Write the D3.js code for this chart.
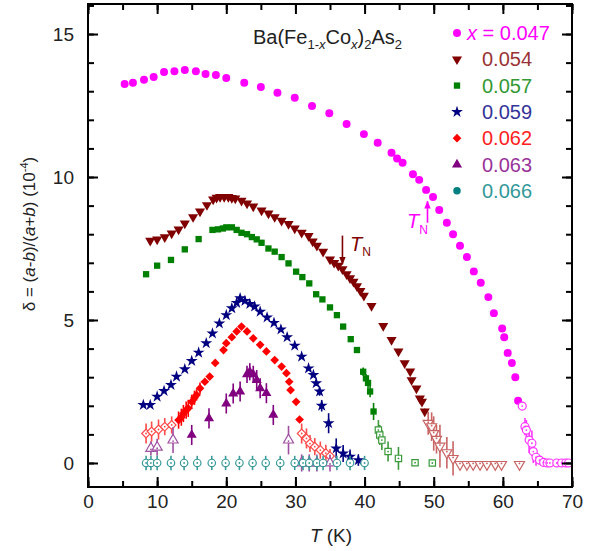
<!DOCTYPE html>
<html>
<head>
<meta charset="utf-8">
<script src="https://cdn.jsdelivr.net/npm/d3@7"></script>
<style>
  body { margin: 0; background: #fff; }
  svg { font-family: Arial, "Liberation Sans", sans-serif; }
</style>
</head>
<body>
<div id="chart"></div>
<script>
// each point: [T (K), delta (1e-4), error bar half height]
var x047Filled = [[5.3,13.25,0],[6.5,13.3,0],[8.1,13.4,0],[9.5,13.5,0],[11.0,13.67,0],[12.5,13.7,0],[14,13.74,0],[15.6,13.7,0],[17,13.6,0],[18.5,13.57,0],[20,13.46,0],[22.6,13.3,0],[25,13.15,0],[27.4,12.95,0],[29.9,12.77,0],[32.4,12.48,0],[34.9,12.23,0],[37.4,11.85,0],[39.9,11.5,0],[41.9,11.2,0],[43.9,10.85,0],[44.7,10.65,0],[45.5,10.5,0],[47,10.1,0],[47.9,9.9,0],[48.9,9.55,0],[49.9,9.3,0],[50.8,8.85,0],[51.9,8.4,0],[52.8,8.0,0],[53.8,7.6,0],[54.8,7.2,0],[55.8,6.7,0],[56.8,6.3,0],[57.9,5.8,0],[58.7,5.24,0],[59.9,4.7,0],[60.2,4.4,0],[60.7,3.85,0],[61.3,3.5,0],[61.8,3.0,0],[62.2,2.18,0]];
var x047Open = [[62.8,1.99,0.1],[63.2,1.27,0.3],[63.4,1.15,0.35],[63.8,0.8,0.45],[64.2,0.69,0.45],[64.4,0.4,0.4],[64.8,0.2,0.3],[65.3,0.1,0.15],[65.9,0.02,0.08],[66.4,0,0.05],[66.8,0,0.05],[67.8,0,0.05],[68.5,0,0.05],[69.1,0,0.05],[69.5,0,0.05]];

var x054Filled = [[9.0,7.77,0],[10.0,7.82,0],[11.1,7.9,0],[12.1,8.03,0],[13.1,8.17,0],[14.0,8.38,0],[15.2,8.6,0],[16.2,8.8,0],[17.2,9.02,0],[18.1,9.22,0],[18.6,9.28,0],[19.1,9.3,0],[19.7,9.3,0],[20.3,9.3,0],[20.8,9.27,0],[21.3,9.25,0],[22.2,9.17,0],[23.0,9.08,0],[23.9,8.97,0],[25.1,8.83,0],[26.1,8.73,0],[27.0,8.6,0],[28.0,8.47,0],[29.0,8.36,0],[29.9,8.2,0],[30.9,8.05,0],[31.9,7.94,0],[32.5,7.75,0],[33.1,7.6,0],[34.0,7.39,0],[35.0,7.12,0],[35.6,7.0,0],[36.2,6.9,0],[36.8,6.78,0],[37.4,6.6,0],[37.9,6.46,0],[38.4,6.34,0],[38.9,6.18,0],[39.4,6.02,0],[39.9,5.85,0],[41.0,5.49,0],[42.7,4.79,0],[43.9,4.3,0],[44.9,3.9,0],[45.8,3.49,0],[46.6,3.2,0],[46.8,2.9,0],[47.5,2.61,0],[48.0,2.26,0],[48.3,2.14,0],[48.7,1.8,0.1]];
var x054Open = [[49.2,1.39,0.4],[49.7,1.27,0.5],[50.0,1.03,0.6],[50.4,0.83,0.5],[50.9,0.59,0.75],[51.9,0.36,0.55],[52.8,0.16,0.6],[53.8,-0.05,0.05],[54.8,-0.05,0],[55.7,-0.05,0],[56.7,-0.05,0],[57.7,-0.05,0],[58.9,-0.05,0],[59.8,-0.05,0],[62.4,-0.05,0]];

var x057Filled = [[8.4,6.6,0],[10,6.9,0],[12,7.1,0],[14,7.47,0],[16,7.83,0],[18,8.15,0],[18.8,8.17,0],[19.5,8.2,0],[20,8.24,0],[20.8,8.24,0],[21.5,8.15,0],[22.2,8.05,0],[23,8.0,0],[23.7,7.9,0],[24.4,7.82,0],[25.1,7.7,0],[26.1,7.5,0],[27,7.39,0],[28,7.2,0],[29,6.98,0],[30.1,6.69,0],[31,6.5,0],[32,6.28,0],[33,5.9,0],[33.9,5.72,0],[35,5.44,0],[36,5.17,0],[36.9,4.77,0],[38,4.33,0],[38.9,3.95,0],[39.8,3.19,0.15],[40.2,2.96,0.15],[40.5,2.8,0.2],[40.8,2.5,0.2],[41.3,1.8,0.3]];
var x057Open = [[42.0,1.15,0.35],[42.2,0.98,0.35],[42.5,0.8,0.35],[43.4,0.4,0.35],[44.9,0.16,0.4],[47.3,0.01,0],[49.8,0,0]];

var x059Filled = [[8,2.03,0],[9,2.03,0],[10,2.32,0],[11,2.52,0],[12,2.73,0],[12.8,3.02,0],[14,3.28,0],[15,3.57,0],[16,3.86,0],[17.1,4.19,0],[18,4.53,0],[19,4.88,0],[20,5.17,0],[20.8,5.41,0],[21.5,5.6,0],[22,5.76,0],[22.7,5.67,0],[23.4,5.56,0],[24.1,5.47,0],[24.9,5.29,0],[25.9,5.09,0],[26.9,4.9,0],[27.9,4.67,0],[28.8,4.4,0],[29.9,4.1,0],[30.9,3.72,0],[31.9,3.31,0],[32.6,3.08,0],[33.0,2.79,0.1],[33.5,2.5,0.15],[33.8,2.0,0.2],[34.8,1.39,0.35],[35.9,0.51,0.35],[36.9,0.33,0.3],[37.9,0.22,0.25],[39.1,0.1,0.2]];

var x062Filled = [[13.1,1.5,0.3],[13.5,1.6,0.3],[13.8,1.73,0.3],[14.2,1.85,0.3],[14.5,1.91,0.3],[15,2.14,0.25],[15.4,2.28,0.25],[15.7,2.38,0.2],[16.2,2.61,0.2],[16.9,2.84,0],[17.6,3.02,0],[18.4,3.5,0],[19.6,3.95,0],[20,4.19,0],[20.8,4.4,0],[21.5,4.6,0],[22.2,4.77,0],[23,4.6,0],[23.9,4.36,0],[24.9,4.13,0],[25.8,3.9,0],[27,3.6,0],[28,3.37,0],[28.7,3.14,0],[29.1,2.84,0],[29.3,2.55,0],[30.1,2.14,0],[30.6,1.52,0]];
var x062Open = [[8.4,1.03,0.35],[9.2,1.1,0.35],[10.2,1.17,0.35],[11.1,1.27,0.3],[12.1,1.33,0.3],[30.9,1.03,0.35],[31.6,0.86,0.35],[32.1,0.68,0.3],[32.8,0.57,0.3],[33.6,0.45,0.3],[34.4,0.34,0.3],[35,0.24,0.25]];

var x063Filled = [[15,0.98,0.35],[17.5,1.56,0.35],[20,2.08,0.35],[21,2.43,0.35],[22,2.5,0.35],[23,3.1,0.3],[23.4,3.19,0.3],[23.9,3.1,0.3],[24.4,2.9,0.35],[24.9,2.61,0.35],[25.8,2.44,0.35],[26.8,1.68,0.35]];
var x063Open = [[9.1,0.51,0.25],[10,0.55,0.3],[12.3,0.8,0.45],[29,0.8,0.5],[30.9,0,0.3],[32,0,0.3],[33.1,0,0.3],[35,0,0.3]];

var x066Open = [[8.4,0,0.25],[9.1,0,0.25],[10,0,0.25],[12,0,0.25],[13.9,0,0.25],[15.8,0,0.25],[17.9,0,0.25],[19.9,0,0.25],[21.9,0,0.25],[23.8,0,0.25],[25.7,0,0.25],[27.8,0,0.25],[29.9,0,0.25],[31.1,0,0.25],[32,0,0.25],[33.1,0,0.25],[34,0,0.25],[36,0,0.25],[37.9,0,0.25],[40,0,0.25]];

var legendLabels = ['0.047', '0.054', '0.057', '0.059', '0.062', '0.063', '0.066'];
var xTicks = [0, 10, 20, 30, 40, 50, 60, 70];
var yTicks = [0, 5, 10, 15];

// series table: marker, colours, filled / open data
var series = [
  {filled: x047Filled, open: x047Open, symbol: d3.symbolCircle, rot: 0, size: 50, color: '#ff00ff', open_color: '#ff33ff', text: '#ff00ff'},
  {filled: x054Filled, open: x054Open, symbol: d3.symbolTriangle, rot: 180, size: 44, color: '#800000', open_color: '#c86464', text: '#993333'},
  {filled: x057Filled, open: x057Open, symbol: d3.symbolSquare, rot: 0, size: 40, color: '#008000', open_color: '#3a9a3a', text: '#339933'},
  {filled: x059Filled, open: [], symbol: d3.symbolStar, rot: 0, size: 44, color: '#000080', open_color: '#3333aa', text: '#333399'},
  {filled: x062Filled, open: x062Open, symbol: d3.symbolSquare, rot: 45, size: 38, color: '#ff0000', open_color: '#ff4a4a', text: '#ff2020'},
  {filled: x063Filled, open: x063Open, symbol: d3.symbolTriangle, rot: 0, size: 44, color: '#800080', open_color: '#a050a0', text: '#993399'},
  {filled: [], open: x066Open, symbol: d3.symbolCircle, rot: 0, size: 44, color: '#008080', open_color: '#3a9a9a', text: '#339999'}
];

var W = 593, H = 551;
var margin = {top: 4, right: 21, bottom: 64, left: 88};

var svg = d3.select('#chart').append('svg')
  .attr('width', W).attr('height', H);

var x = d3.scaleLinear().domain([0, 70]).range([margin.left, W - margin.right]);
var y = d3.scaleLinear().domain([-0.84, 16.05]).range([H - margin.bottom, margin.top]);

// axes (ticks point inward on all four sides)
function drawAxes() {
  var minorX = d3.range(0, 71, 5), minorY = d3.range(0, 17, 1);

  function style(g) {
    g.select('.domain').remove();
    g.selectAll('line').attr('stroke', '#000').attr('stroke-width', 2);
    g.selectAll('text').attr('font-size', 19).attr('fill', '#222');
  }

  svg.append('g').attr('transform', 'translate(0,' + y.range()[0] + ')')
    .call(d3.axisBottom(x).tickValues(minorX).tickSize(-6).tickFormat('')).call(style);
  svg.append('g').attr('transform', 'translate(0,' + y.range()[0] + ')')
    .call(d3.axisBottom(x).tickValues(xTicks).tickSize(-10).tickPadding(8).tickFormat(d3.format('d'))).call(style);
  svg.append('g').attr('transform', 'translate(0,' + y.range()[1] + ')')
    .call(d3.axisTop(x).tickValues(minorX).tickSize(-6).tickFormat('')).call(style);
  svg.append('g').attr('transform', 'translate(0,' + y.range()[1] + ')')
    .call(d3.axisTop(x).tickValues(xTicks).tickSize(-10).tickFormat('')).call(style);

  svg.append('g').attr('transform', 'translate(' + x.range()[0] + ',0)')
    .call(d3.axisLeft(y).tickValues(minorY).tickSize(-6).tickFormat('')).call(style);
  svg.append('g').attr('transform', 'translate(' + x.range()[0] + ',0)')
    .call(d3.axisLeft(y).tickValues(yTicks).tickSize(-10).tickPadding(14).tickFormat(d3.format('d'))).call(style);
  svg.append('g').attr('transform', 'translate(' + x.range()[1] + ',0)')
    .call(d3.axisRight(y).tickValues(minorY).tickSize(-6).tickFormat('')).call(style);
  svg.append('g').attr('transform', 'translate(' + x.range()[1] + ',0)')
    .call(d3.axisRight(y).tickValues(yTicks).tickSize(-10).tickFormat('')).call(style);

  svg.append('rect')
    .attr('x', x.range()[0]).attr('y', y.range()[1])
    .attr('width', x.range()[1] - x.range()[0])
    .attr('height', y.range()[0] - y.range()[1])
    .attr('fill', 'none').attr('stroke', '#000').attr('stroke-width', 2);
}

function drawErrors(g, data, color) {
  g.selectAll(null).data(data.filter(function(d) { return d[2] > 0; }))
    .enter().append('line')
    .attr('x1', function(d) { return x(d[0]); })
    .attr('x2', function(d) { return x(d[0]); })
    .attr('y1', function(d) { return y(d[1] - d[2]); })
    .attr('y2', function(d) { return y(d[1] + d[2]); })
    .attr('stroke', color).attr('stroke-width', 1.6);
}

function drawSeries() {
  series.forEach(function(s) {
    var g = svg.append('g');
    var sym = d3.symbol().type(s.symbol).size(s.size);
    drawErrors(g, s.open, s.open_color);
    drawErrors(g, s.filled, s.color);

    g.selectAll(null).data(s.filled).enter().append('path')
      .attr('d', sym)
      .attr('transform', function(d) { return 'translate(' + x(d[0]) + ',' + y(d[1]) + ') rotate(' + s.rot + ')'; })
      .attr('fill', s.color);

    // open markers with a small dot in the middle
    g.selectAll(null).data(s.open).enter().append('path')
      .attr('d', sym)
      .attr('transform', function(d) { return 'translate(' + x(d[0]) + ',' + y(d[1]) + ') rotate(' + s.rot + ')'; })
      .attr('fill', '#fff').attr('stroke', s.open_color).attr('stroke-width', 1.2);
    g.selectAll(null).data(s.open).enter().append('circle')
      .attr('cx', function(d) { return x(d[0]); })
      .attr('cy', function(d) { return y(d[1]) + (s.rot === 180 ? -1 : (s.symbol === d3.symbolTriangle ? 1 : 0)); })
      .attr('r', 0.9).attr('fill', s.open_color);
  });
}

function drawLegend() {
  var lx = 457, ly = 33, dy = 26.3;
  series.forEach(function(s, i) {
    var cy = ly + i * dy;
    svg.append('path')
      .attr('d', d3.symbol().type(s.symbol).size(s.size)())
      .attr('transform', 'translate(' + lx + ',' + cy + ') rotate(' + s.rot + ')')
      .attr('fill', s.color);
    var t = svg.append('text')
      .attr('x', i === 0 ? 467 : 482).attr('y', cy + 7)
      .attr('font-size', 20).attr('fill', s.text);
    if (i === 0) {
      t.append('tspan').attr('font-style', 'italic').text('x');
      t.append('tspan').text(' = ' + legendLabels[i]);
    } else {
      t.text(legendLabels[i]);
    }
  });
}

function drawLabels() {
  // compound formula
  var f = svg.append('text').attr('x', 253).attr('y', 44).attr('font-size', 20).attr('fill', '#222');
  f.append('tspan').text('Ba(Fe');
  var s1 = f.append('tspan').attr('font-size', 13).attr('dy', 5);
  s1.append('tspan').text('1-');
  s1.append('tspan').attr('font-style', 'italic').text('x');
  f.append('tspan').attr('dy', -5).text('Co');
  f.append('tspan').attr('font-size', 13).attr('dy', 5).attr('font-style', 'italic').text('x');
  f.append('tspan').attr('dy', -5).text(')');
  f.append('tspan').attr('font-size', 13).attr('dy', 5).text('2');
  f.append('tspan').attr('dy', -5).text('As');
  f.append('tspan').attr('font-size', 13).attr('dy', 5).text('2');

  // x axis title
  var xt = svg.append('text').attr('x', 331).attr('y', 542)
    .attr('text-anchor', 'middle').attr('font-size', 19).attr('fill', '#222');
  xt.append('tspan').attr('font-style', 'italic').text('T');
  xt.append('tspan').text(' (K)');

  // y axis title
  var yt = svg.append('text')
    .attr('transform', 'translate(35,234) rotate(-90)')
    .attr('text-anchor', 'middle').attr('font-size', 17).attr('fill', '#222');
  yt.append('tspan').text('\u03b4 = (');
  yt.append('tspan').attr('font-style', 'italic').text('a');
  yt.append('tspan').text('-');
  yt.append('tspan').attr('font-style', 'italic').text('b');
  yt.append('tspan').text(')/(');
  yt.append('tspan').attr('font-style', 'italic').text('a');
  yt.append('tspan').text('+');
  yt.append('tspan').attr('font-style', 'italic').text('b');
  yt.append('tspan').text(') (10');
  yt.append('tspan').attr('font-size', 11).attr('dy', -7).text('-4');
  yt.append('tspan').attr('dy', 7).text(')');

  // T_N markers
  var defs = svg.append('defs');
  [['arrBrown', '#800000'], ['arrMag', '#ff00ff']].forEach(function(a) {
    defs.append('marker').attr('id', a[0]).attr('viewBox', '0 0 10 10')
      .attr('refX', 9).attr('refY', 5).attr('markerWidth', 5).attr('markerHeight', 5)
      .attr('orient', 'auto')
      .append('path').attr('d', 'M0,1 L10,5 L0,9 Z').attr('fill', a[1]);
  });

  svg.append('line').attr('x1', x(36.8)).attr('x2', x(36.8))
    .attr('y1', y(7.95)).attr('y2', y(6.95))
    .attr('stroke', '#800000').attr('stroke-width', 1.6).attr('marker-end', 'url(#arrBrown)');
  var tn1 = svg.append('text').attr('x', 350).attr('y', 251).attr('font-size', 20).attr('fill', '#800000');
  tn1.append('tspan').attr('font-style', 'italic').text('T');
  tn1.append('tspan').attr('font-size', 12).attr('dy', 5).text('N');

  svg.append('line').attr('x1', x(49.1)).attr('x2', x(49.1))
    .attr('y1', y(8.4)).attr('y2', y(9.15))
    .attr('stroke', '#ff00ff').attr('stroke-width', 1.6).attr('marker-end', 'url(#arrMag)');
  var tn2 = svg.append('text').attr('x', 407).attr('y', 228).attr('font-size', 20).attr('fill', '#ff00ff');
  tn2.append('tspan').attr('font-style', 'italic').text('T');
  tn2.append('tspan').attr('font-size', 12).attr('dy', 6).text('N');
}

drawSeries();
drawAxes();
drawLegend();
drawLabels();
</script>
</body>
</html>
